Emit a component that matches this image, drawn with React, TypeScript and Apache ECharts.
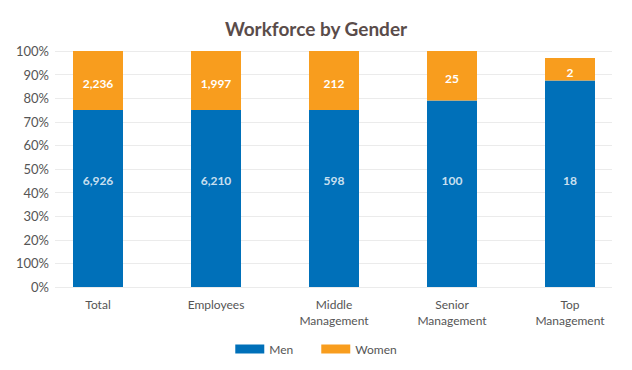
import React, { useEffect, useRef } from "react";
import * as echarts from "echarts";

const categories = ["Total", "Employees", "Middle\nManagement", "Senior\nManagement", "Top\nManagement"];
const menShare = [75, 75, 75, 79, 87.5];
const womenShare = [25, 25, 25, 21, 9.5];
const menCounts = ["6,926", "6,210", "598", "100", "18"];
const womenCounts = ["2,236", "1,997", "212", "25", "2"];
const yTickLabels = ["0%", "100%", "20%", "30%", "40%", "50%", "60%", "70%", "80%", "90%", "100%"];
const MEN_LABEL_LEVEL = 45;

const FONT = "Lato, 'Noto Sans', sans-serif";

export default function App() {
  const ref = useRef<HTMLDivElement>(null);
  useEffect(() => {
    document.body.style.margin = "0";
    if (!ref.current) return;
    const chart = echarts.init(ref.current, null, { renderer: "svg" });
    chart.setOption({
      animation: false,
      textStyle: { fontFamily: FONT },
      title: {
        text: "Workforce by Gender",
        left: "center",
        top: 14,
        textStyle: { fontFamily: FONT, fontSize: 19, fontWeight: "bold", color: "#5a4c4a" },
      },
      legend: {
        bottom: 10,
        left: "center",
        icon: "rect",
        itemWidth: 29,
        itemHeight: 9,
        itemGap: 28,
        textStyle: { fontFamily: FONT, fontSize: 12, color: "#555" },
        data: ["Men", "Women"],
      },
      grid: [
        { left: 55, right: 20, top: 51, bottom: 83 },
        { left: 39, right: 3, top: 51, bottom: 83 },
      ],
      xAxis: [
        { type: "category", gridIndex: 0, data: categories, show: false },
        {
          type: "category",
          gridIndex: 1,
          data: categories,
          axisLine: { show: false },
          axisTick: { show: false },
          axisLabel: { color: "#555", fontSize: 12, fontFamily: FONT, lineHeight: 16, margin: 9 },
        },
      ],
      yAxis: [
        {
          type: "value",
          gridIndex: 0,
          min: 0,
          max: 100,
          interval: 10,
          axisLine: { show: false },
          axisTick: { show: false },
          splitLine: { lineStyle: { color: "#ebebeb" } },
          axisLabel: {
            color: "#555",
            fontSize: 13,
            fontFamily: FONT,
            margin: 6,
            formatter: (v: number) => yTickLabels[Math.round(v / 10)],
          },
        },
        { type: "value", gridIndex: 1, min: 0, max: 100, show: false },
      ],
      series: [
        {
          name: "Men",
          type: "bar",
          stack: "g",
          xAxisIndex: 1,
          yAxisIndex: 1,
          barWidth: 50,
          data: menShare,
          itemStyle: { color: "#0070b9" },
        },
        {
          name: "Women",
          type: "bar",
          stack: "g",
          xAxisIndex: 1,
          yAxisIndex: 1,
          barWidth: 50,
          data: womenShare,
          itemStyle: { color: "#f89d1e" },
          label: {
            show: true,
            position: "inside",
            offset: [0, 3],
            color: "#fff",
            fontWeight: "bold",
            fontSize: 12,
            fontFamily: FONT,
            formatter: (p: any) => womenCounts[p.dataIndex],
          },
        },
        {
          name: "MenLabels",
          type: "scatter",
          xAxisIndex: 1,
          yAxisIndex: 1,
          symbolSize: 0,
          silent: true,
          data: menCounts.map(() => MEN_LABEL_LEVEL),
          label: {
            show: true,
            position: "inside",
            color: "#fff",
            fontWeight: "bold",
            fontSize: 12,
            fontFamily: FONT,
            formatter: (p: any) => menCounts[p.dataIndex],
          },
        },
      ],
    });
    return () => chart.dispose();
  }, []);
  return <div ref={ref} style={{ width: 632, height: 370 }} />;
}
